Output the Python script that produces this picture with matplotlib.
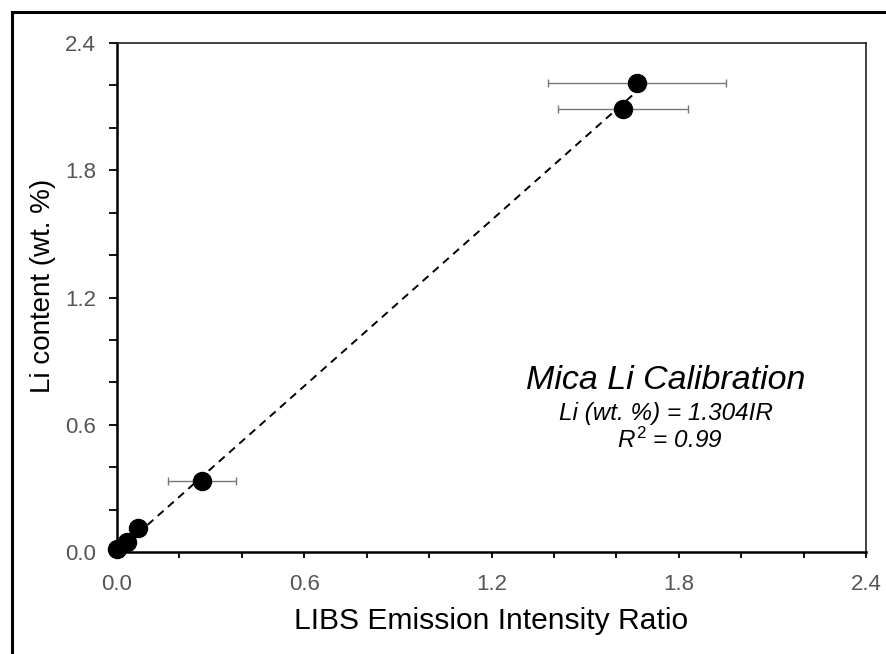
import matplotlib
matplotlib.use("Agg")
import matplotlib.pyplot as plt
from matplotlib.patches import Rectangle
from matplotlib.ticker import MultipleLocator
import numpy as np

plt.rcParams['font.family'] = ['Liberation Sans', 'DejaVu Sans']
plt.rcParams['mathtext.fontset'] = 'custom'
plt.rcParams['mathtext.it'] = 'Liberation Sans:italic'
plt.rcParams['mathtext.rm'] = 'Liberation Sans'

# Data
ir = [0.0, 0.032, 0.067, 0.272, 1.622, 1.667]
li = [0.012, 0.047, 0.113, 0.335, 2.089, 2.211]
ir_err = [0.0, 0.0, 0.0, 0.11, 0.208, 0.285]
slope = 1.304
fit_x = [0.0, 1.68]
x_ticks = [0.0, 0.6, 1.2, 1.8, 2.4]
y_ticks = [0.0, 0.6, 1.2, 1.8, 2.4]

W, H = 886, 654
fig = plt.figure(figsize=(W / 100, H / 100), dpi=100)

# outer frame
fig.patches.append(Rectangle((12 / W, -0.1), 1.2, (H - 12) / H + 0.1,
                             transform=fig.transFigure, fill=False,
                             edgecolor='black', linewidth=2.2, zorder=0))

ax = fig.add_axes([117 / W, 1 - 552 / H, 749 / W, 509 / H])

fx = np.array(fit_x)
ax.plot(fx, slope * fx, linestyle=(0, (4, 3)), color='black', linewidth=1.4, zorder=2)

ax.errorbar(ir, li, xerr=ir_err, fmt='none',
            ecolor='#777777', elinewidth=1.0, capsize=3, capthick=1.0, zorder=1)
ax.plot(ir, li, 'o', color='black', markersize=13, zorder=3, clip_on=False)

ax.set_xlim(0, 2.4)
ax.set_ylim(0, 2.4)
ax.set_xticks(x_ticks)
ax.set_yticks(y_ticks)
ax.set_xticklabels([f"{v:.1f}" for v in x_ticks])
ax.set_yticklabels([f"{v:.1f}" for v in y_ticks])
ax.xaxis.set_minor_locator(MultipleLocator(0.2))
ax.yaxis.set_minor_locator(MultipleLocator(0.2))

ax.tick_params(axis='x', which='both', direction='out', length=4.5, width=1.3,
               colors='black', labelcolor='#555555', labelsize=16, pad=11)
ax.tick_params(axis='y', which='both', direction='out', length=6, width=1.3,
               colors='black', labelcolor='#555555', labelsize=16, pad=9)

for s in ['left', 'bottom']:
    ax.spines[s].set_linewidth(1.8)
    ax.spines[s].set_color('black')
for s in ['top', 'right']:
    ax.spines[s].set_linewidth(1.2)
    ax.spines[s].set_color('#222222')

ax.set_xlabel('LIBS Emission Intensity Ratio', fontsize=21.6, labelpad=9)
ax.set_ylabel('Li content (wt. %)', fontsize=20, labelpad=9)
ax.yaxis.set_label_coords(-0.082, 0.523)

ax.text(0.733, 0.336, 'Mica Li Calibration', transform=ax.transAxes,
        ha='center', va='center', fontsize=24.5, style='italic')
ax.text(0.733, 0.273, 'Li (wt. %) = 1.304IR', transform=ax.transAxes,
        ha='center', va='center', fontsize=17.5, style='italic')
ax.text(0.738, 0.220, r'$R^{2}$ = 0.99', transform=ax.transAxes,
        ha='center', va='center', fontsize=17.5, style='italic')

fig.savefig('out.png', dpi=100)
